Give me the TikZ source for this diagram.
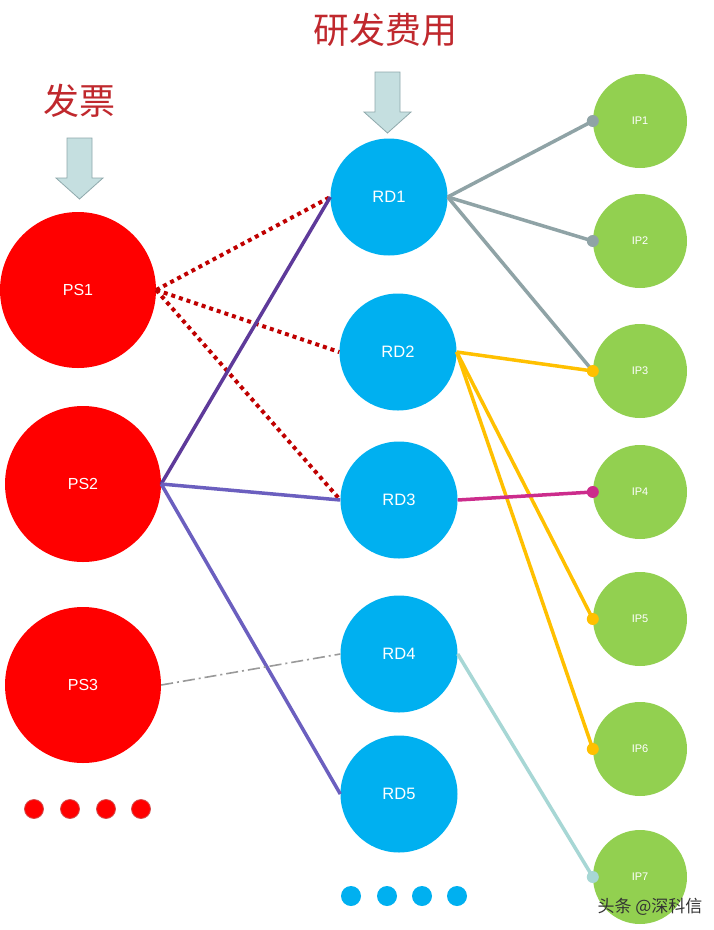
\documentclass[tikz,border=0pt]{standalone}
\usepackage{fontspec}
\setmainfont{Liberation Sans}
\newfontfamily\cjk{Noto Sans CJK SC}
\definecolor{psred}{HTML}{FF0000}
\definecolor{rdblue}{HTML}{00B0F0}
\definecolor{ipgreen}{HTML}{92D050}
\definecolor{titlered}{HTML}{C0282D}
\definecolor{dotred}{HTML}{C00000}
\definecolor{darkpurple}{HTML}{5E3A9A}
\definecolor{bluepurple}{HTML}{6B5FBF}
\definecolor{linegray}{HTML}{8FA3A6}
\definecolor{lineyellow}{HTML}{FFC000}
\definecolor{linemagenta}{HTML}{CC2C8C}
\definecolor{lineteal}{HTML}{A7D7D5}
\definecolor{arrowfill}{HTML}{C5DFE0}
\definecolor{arrowdraw}{HTML}{8FA9AC}
\begin{document}
\begin{tikzpicture}[x=1pt,y=-1pt,
  psnode/.style={circle, fill=psred, minimum size=156pt, inner sep=0pt, text=white, font=\fontsize{16}{16}\selectfont},
  rdnode/.style={circle, fill=rdblue, minimum size=117pt, inner sep=0pt, text=white, font=\fontsize{16.5}{16.5}\selectfont},
  ipnode/.style={circle, fill=ipgreen, minimum size=94pt, inner sep=0pt, text=white, font=\fontsize{11}{11}\selectfont},
  reddot/.style={circle, fill=psred, draw=dotred!70, line width=0.8pt, minimum size=19pt, inner sep=0pt},
  bluedot/.style={circle, fill=rdblue, minimum size=20pt, inner sep=0pt},
  blockarrow/.style={fill=arrowfill, draw=arrowdraw, line width=0.8pt},
  title/.style={text=titlered, font=\cjk\fontsize{36}{36}\selectfont},
  conn/.style={line width=3.5pt},
  dotconn/.style={dotred, line width=4pt, dash pattern=on 4pt off 4pt},
  enddot/.style={circle, inner sep=0pt, minimum size=12pt}
]
\useasboundingbox (0,0) rectangle (714,930);
\fill[white] (0,0) rectangle (714,930);

% titles
\node[title] (t1) at (79,101) {发票};
\node[title] (t2) at (385,30) {研发费用};

% block arrows
\draw[blockarrow] (67,138) -- (92,138) -- (92,178) -- (103,178) -- (79.5,199) -- (56,178) -- (67,178) -- cycle;
\draw[blockarrow] (375,72) -- (400,72) -- (400,112) -- (411,112) -- (387.5,133) -- (364,112) -- (375,112) -- cycle;

% PS nodes
\node[psnode] (PS1) at (78,290) {PS1};
\node[psnode] (PS2) at (83,484) {PS2};
\node[psnode] (PS3) at (83,685) {PS3};

% RD nodes
\node[rdnode] (RD1) at (389,197) {RD1};
\node[rdnode] (RD2) at (398,352) {RD2};
\node[rdnode] (RD3) at (399,500) {RD3};
\node[rdnode] (RD4) at (399,654) {RD4};
\node[rdnode] (RD5) at (399,794) {RD5};

% IP nodes
\node[ipnode] (IP1) at (640,121) {IP1};
\node[ipnode] (IP2) at (640,241) {IP2};
\node[ipnode] (IP3) at (640,371) {IP3};
\node[ipnode] (IP4) at (640,492) {IP4};
\node[ipnode] (IP5) at (640,619) {IP5};
\node[ipnode] (IP6) at (640,749) {IP6};
\node[ipnode] (IP7) at (640,877) {IP7};

% ellipsis dots
\node[reddot] (r1) at (34,809) {};
\node[reddot] (r2) at (70,809) {};
\node[reddot] (r3) at (106,809) {};
\node[reddot] (r4) at (141,809) {};
\node[bluedot] (b1) at (351,896) {};
\node[bluedot] (b2) at (387,896) {};
\node[bluedot] (b3) at (422,896) {};
\node[bluedot] (b4) at (457,896) {};

% left connectors
\draw[dotconn] (PS1.east) -- (RD1.west);
\draw[dotconn] (PS1.east) -- (RD2.west);
\draw[dotconn] (PS1.east) -- (RD3.west);
\draw[conn, darkpurple] (PS2.east) -- (RD1.west);
\draw[conn, bluepurple] (PS2.east) -- (RD3.west);
\draw[conn, bluepurple] (PS2.east) -- (RD5.west);
\draw[line width=1.6pt, gray!80, dash pattern=on 12pt off 4pt on 2pt off 4pt] (PS3.east) -- (RD4.west);

% right connectors
\draw[conn, linegray] (RD1.east) -- (IP1.west);
\draw[conn, linegray] (RD1.east) -- (IP2.west);
\draw[conn, linegray] (RD1.east) -- (IP3.west);
\node[enddot, fill=linegray] (d1) at (IP1.west) {};
\node[enddot, fill=linegray] (d2) at (IP2.west) {};
\draw[conn, lineyellow] (RD2.east) -- (IP3.west);
\draw[conn, lineyellow] (RD2.east) -- (IP5.west);
\draw[conn, lineyellow] (RD2.east) -- (IP6.west);
\node[enddot, fill=lineyellow] (d3) at (IP3.west) {};
\node[enddot, fill=lineyellow] (d5) at (IP5.west) {};
\node[enddot, fill=lineyellow] (d6) at (IP6.west) {};
\draw[conn, linemagenta] (RD3.east) -- (IP4.west);
\node[enddot, fill=linemagenta] (d4) at (IP4.west) {};
\draw[conn, lineteal] (RD4.east) -- (IP7.west);
\node[enddot, fill=lineteal] (d7) at (IP7.west) {};

% watermark
\node[text=black!80, font=\cjk\fontsize{17}{17}\selectfont, anchor=east] (wm) at (706,907) {头条 @深科信};
\end{tikzpicture}
\end{document}
